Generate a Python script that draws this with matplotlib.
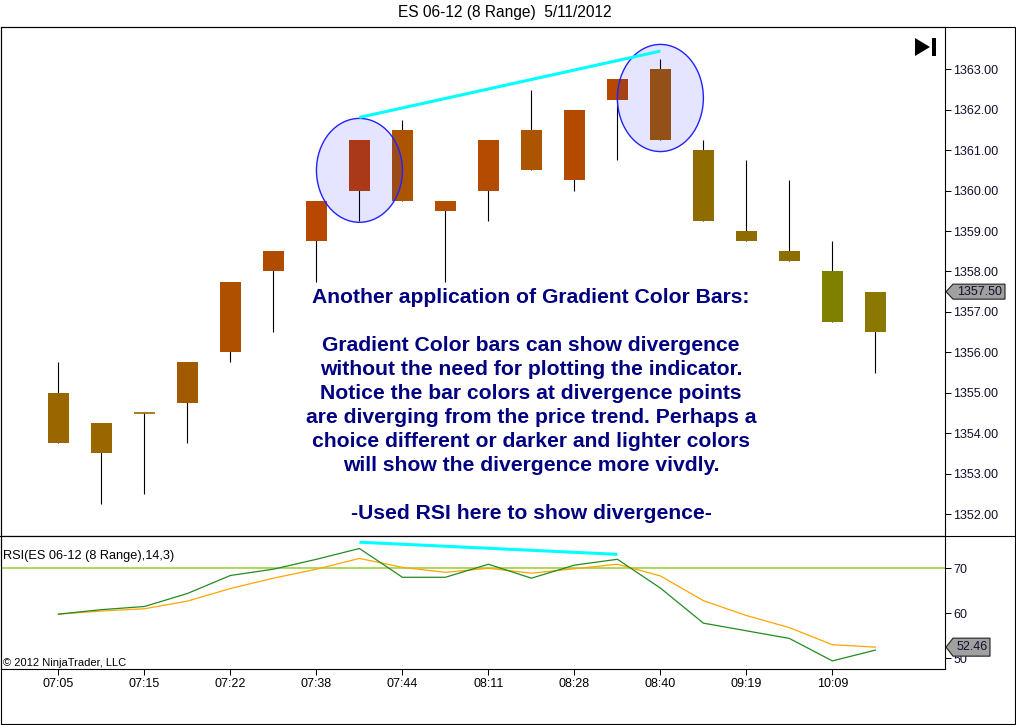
#!/usr/bin/env python3
"""
ES 06-12 (8 Range) 梯度颜色K线 + RSI 背离示意图
"""

import numpy as np
import matplotlib
matplotlib.use('Agg')
import matplotlib.pyplot as plt
from matplotlib.patches import Ellipse, Polygon, Rectangle
from matplotlib.lines import Line2D
from matplotlib.transforms import blended_transform_factory


# ── 数据 ─────────────────────────────────────────

tick_times = ['07:05', '07:15', '07:22', '07:38', '07:44',
              '08:11', '08:28', '08:40', '09:19', '10:09']

highs    = [1355.75, 1354.25, 1354.50, 1355.75, 1357.75, 1358.50, 1359.75, 1361.25, 1361.75, 1359.75,
            1361.25, 1362.50, 1362.00, 1362.75, 1363.25, 1361.25, 1360.75, 1360.25, 1358.75, 1357.50]
lows     = [1353.75, 1352.25, 1352.50, 1353.75, 1355.75, 1356.50, 1357.75, 1359.25, 1359.75, 1357.75,
            1359.25, 1360.50, 1360.00, 1360.75, 1361.25, 1359.25, 1358.75, 1358.25, 1356.75, 1355.50]
body_top = [1355.00, 1354.25, 1354.50, 1355.75, 1357.75, 1358.50, 1359.75, 1361.25, 1361.50, 1359.75,
            1361.25, 1361.50, 1362.00, 1362.75, 1363.00, 1361.00, 1359.00, 1358.50, 1358.00, 1357.50]
body_bot = [1353.75, 1353.50, 1354.50, 1354.75, 1356.00, 1358.00, 1358.75, 1360.00, 1359.75, 1359.50,
            1360.00, 1360.50, 1360.25, 1362.25, 1361.25, 1359.25, 1358.75, 1358.25, 1356.75, 1356.50]

# 按 RSI 取的梯度颜色
bar_colors = ['#996600', '#996600', '#A06000', '#A25A00', '#AE5000', '#B04C00', '#B84800', '#BD4000',
              '#AD5400', '#B25000', '#B44C00', '#AC5500', '#B44A00', '#B84800', '#A45A00', '#8E6C00',
              '#8E6C00', '#8C6E00', '#808000', '#8A7800']

rsi     = [59.8, 60.8, 61.5, 64.4, 68.4, 69.8, 72.0, 74.4, 68.0, 68.0,
           70.9, 67.8, 70.7, 72.0, 65.6, 57.8, 56.1, 54.4, 49.4, 51.8]
rsi_avg = [59.8, 60.5, 61.0, 62.7, 65.5, 67.8, 69.8, 72.2, 70.2, 69.1,
           70.0, 68.9, 69.9, 70.9, 68.3, 62.8, 59.5, 56.8, 53.0, 52.46]

last_price = 1357.50
rsi_level = 70

# 背离标注
price_div_x = [7, 14]
price_div_y = [1361.81, 1363.45]
rsi_div_x = [7, 13]
rsi_div_y = [75.8, 73.1]

note_lines = [
    'Another application of Gradient Color Bars:',
    '',
    'Gradient Color bars can show divergence',
    'without the need for plotting the indicator.',
    'Notice the bar colors at divergence points',
    'are diverging from the price trend. Perhaps a',
    'choice different or darker and lighter colors',
    'will show the divergence more vivdly.',
    '',
    '-Used RSI here to show divergence-',
]


# ── 像素 → 图坐标 ─────────────────────────────────────

W, H = 1016, 725


def fx(px):
    return px / W


def fy(py):
    return 1 - py / H


plt.rcParams['font.family'] = ['Liberation Sans', 'DejaVu Sans']

fig = plt.figure(figsize=(W / 100, H / 100), dpi=100)
ax = fig.add_axes([fx(1), fy(536), fx(945) - fx(1), fy(27) - fy(536)])
ax_rsi = fig.add_axes([fx(1), fy(669), fx(945) - fx(1), fy(536) - fy(669)], sharex=ax)

n = len(highs)
x = np.arange(n)

# ── K线 ──────────────────────────────────────────────
ax.vlines(x, lows, highs, color='black', lw=0.8, zorder=2)
heights = np.array(body_top) - np.array(body_bot)
ax.bar(x, heights, bottom=body_bot, width=0.49, color=bar_colors, zorder=3)
for i in range(n):
    if heights[i] == 0:
        ax.hlines(body_top[i], i - 0.245, i + 0.245, color=bar_colors[i], lw=1.2, zorder=3)

for cx, cy, h in [(7, 1360.50, 2.57), (14, 1362.29, 2.65)]:
    ax.add_patch(Ellipse((cx, cy), 2.0, h, facecolor=(0, 0, 1, 0.1),
                         edgecolor='#2222FF', lw=1.0, zorder=4))
ax.plot(price_div_x, price_div_y, color='#00FFFF', lw=2.2, zorder=5, solid_capstyle='butt')

ax.set_xlim(-1.337, 20.62)
ax.set_ylim(1351.456, 1364.046)
ax.yaxis.tick_right()
ax.set_yticks(np.arange(1352, 1364, 1.0))
ax.set_yticklabels([f'{v:.2f}' for v in np.arange(1352, 1364, 1.0)])
ax.tick_params(axis='y', direction='out', length=4.3, width=0.72, pad=1.5,
               labelsize=9, labelcolor='#10102a')
ax.tick_params(axis='x', bottom=False, labelbottom=False)

# ── RSI ──────────────────────────────────────────────
ax_rsi.axhline(rsi_level, color='#9ACD32', lw=1.1, zorder=1)
ax_rsi.plot(x, rsi_avg, color='#FFA500', lw=0.9, zorder=2)
ax_rsi.plot(x, rsi, color='#228B22', lw=0.9, zorder=3)
ax_rsi.plot(rsi_div_x, rsi_div_y, color='#00FFFF', lw=2.2, zorder=4, solid_capstyle='butt')

ax_rsi.set_ylim(47.6, 77.18)
ax_rsi.yaxis.tick_right()
ax_rsi.set_yticks([50, 60, 70])
ax_rsi.tick_params(axis='y', direction='out', length=4.3, width=0.72, pad=1.5,
                   labelsize=9, labelcolor='#10102a')
ax_rsi.set_xticks(x[::2])
ax_rsi.set_xticklabels(tick_times)
ax_rsi.tick_params(axis='x', direction='out', length=4.3, width=0.72, pad=2, labelsize=9)

for a in (ax, ax_rsi):
    for s in a.spines.values():
        s.set_linewidth(0.8)


# ── 右侧价格标签 ─────────────────────────────────────

def value_tag(a, y, label, half_px, right_px):
    lo, hi = a.get_ylim()
    h_px = a.get_position().height * H
    dy = half_px * (hi - lo) / h_px
    tr = blended_transform_factory(fig.transFigure, a.transData)
    pts = [(fx(946), y), (fx(953), y + dy), (fx(right_px), y + dy),
           (fx(right_px), y - dy), (fx(953), y - dy)]
    a.add_patch(Polygon(pts, closed=True, transform=tr, clip_on=False,
                        facecolor='#A0A0A0', edgecolor='#202020', lw=0.8, zorder=10))
    a.text(fx((953 + right_px) / 2 + 1), y, label, transform=tr, ha='center', va='center',
           fontsize=9, color='#10102a', clip_on=False, zorder=11)


value_tag(ax, last_price, f'{last_price:.2f}', 7.5, 1005)
value_tag(ax_rsi, rsi_avg[-1], f'{rsi_avg[-1]:.2f}', 9, 990)

# ── 文字 ─────────────────────────────────────────────
fig.text(fx(505), fy(13), 'ES 06-12 (8 Range)  5/11/2012', ha='center', va='center', fontsize=11.2)
fig.text(fx(3), fy(555.7), 'RSI(ES 06-12 (8 Range),14,3)', ha='left', va='center', fontsize=9.2)
fig.text(fx(3), fy(662.5), '\u00a9 2012 NinjaTrader, LLC', ha='left', va='center', fontsize=8)

for k, line in enumerate(note_lines):
    if line:
        fig.text(fx(531), fy(302.7 + 24.03 * k), line, ha='center', va='baseline',
                 fontsize=15.2, fontweight='bold', color='#000080', zorder=20)

# ── 边框 / ▶| 图标 ───────────────────────────────────
fig.add_artist(Rectangle((fx(0.5), fy(724)), fx(1015) - fx(0.5), fy(27) - fy(724),
                         transform=fig.transFigure, fill=False, edgecolor='black', lw=0.8))
fig.add_artist(Line2D([fx(0), fx(1015)], [fy(536), fy(536)], transform=fig.transFigure,
                      color='black', lw=0.8))
fig.add_artist(Polygon([(fx(915), fy(38)), (fx(915), fy(56)), (fx(930), fy(47))],
                       closed=True, transform=fig.transFigure, facecolor='black', edgecolor='none'))
fig.add_artist(Rectangle((fx(932), fy(56)), fx(936) - fx(932), fy(38) - fy(56),
                         transform=fig.transFigure, facecolor='black', edgecolor='none'))

fig.savefig('out.png', dpi=100, facecolor='white')
